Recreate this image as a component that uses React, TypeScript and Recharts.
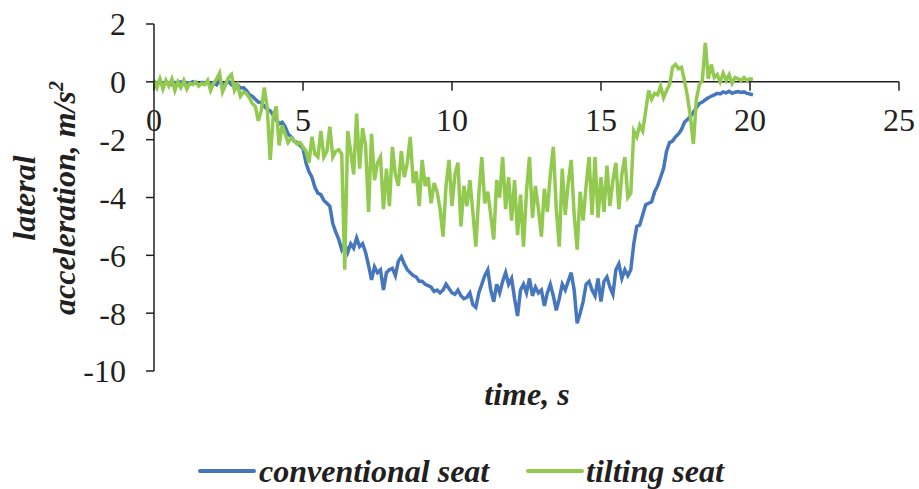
import React from 'react';
import { LineChart, Line, XAxis, YAxis, ReferenceLine } from 'recharts';

// sample times, s
const time = [
  0, 0.1, 0.2, 0.3, 0.4, 0.5, 0.6, 0.7, 0.8, 0.9,
  1, 1.1, 1.2, 1.3, 1.4, 1.5, 1.6, 1.7, 1.8, 1.9,
  2, 2.1, 2.2, 2.3, 2.4, 2.5, 2.6, 2.7, 2.8, 2.9,
  3, 3.1, 3.2, 3.3, 3.4, 3.5, 3.6, 3.7, 3.8, 3.9,
  4, 4.1, 4.2, 4.3, 4.4, 4.5, 4.6, 4.7, 4.8, 4.9,
  5, 5.1, 5.2, 5.3, 5.4, 5.5, 5.6, 5.7, 5.8, 5.9,
  6, 6.1, 6.2, 6.3, 6.4, 6.5, 6.6, 6.7, 6.8, 6.9,
  7, 7.1, 7.2, 7.3, 7.4, 7.5, 7.6, 7.7, 7.8, 7.9,
  8, 8.1, 8.2, 8.3, 8.4, 8.5, 8.6, 8.7, 8.8, 8.9,
  9, 9.1, 9.2, 9.3, 9.4, 9.5, 9.6, 9.7, 9.8, 9.9,
  10, 10.1, 10.2, 10.3, 10.4, 10.5, 10.6, 10.7, 10.8, 10.9,
  11, 11.1, 11.2, 11.3, 11.4, 11.5, 11.6, 11.7, 11.8, 11.9,
  12, 12.1, 12.2, 12.3, 12.4, 12.5, 12.6, 12.7, 12.8, 12.9,
  13, 13.1, 13.2, 13.3, 13.4, 13.5, 13.6, 13.7, 13.8, 13.9,
  14, 14.1, 14.2, 14.3, 14.4, 14.5, 14.6, 14.7, 14.8, 14.9,
  15, 15.1, 15.2, 15.3, 15.4, 15.5, 15.6, 15.7, 15.8, 15.9,
  16, 16.1, 16.2, 16.3, 16.4, 16.5, 16.6, 16.7, 16.8, 16.9,
  17, 17.1, 17.2, 17.3, 17.4, 17.5, 17.6, 17.7, 17.8, 17.9,
  18, 18.1, 18.2, 18.3, 18.4, 18.5, 18.6, 18.7, 18.8, 18.9,
  19, 19.1, 19.2, 19.3, 19.4, 19.5, 19.6, 19.7, 19.8, 19.9,
  20, 20.1,
];

// lateral acceleration, m/s2
const conventionalSeat = [
  0, -0.05, 0.02, -0.08, 0, -0.05, -0.1, -0.02, -0.06, 0,
  -0.08, -0.03, -0.06, 0, -0.05, -0.08, -0.02, -0.05, 0, -0.08,
  -0.03, -0.1, 0.05, -0.12, -0.05, 0.02, -0.1, -0.15, -0.1, -0.22,
  -0.2, -0.3, -0.45, -0.5, -0.6, -0.7, -0.72, -0.85, -0.95, -1.0,
  -1.15, -1.3, -1.45, -1.4, -1.55, -1.8, -1.9, -2.05, -2.1, -2.2,
  -2.3, -2.8, -3.1, -3.3, -3.65, -3.85, -3.9, -4.1, -4.2, -4.3,
  -4.9, -5.2, -5.45, -5.8, -5.6, -5.9, -5.6, -5.75, -5.4, -5.7,
  -5.6, -5.9, -6.35, -6.85, -6.4, -6.6, -6.5, -7.2, -6.6, -6.5,
  -6.45, -6.7, -6.2, -6.05, -6.3, -6.5, -6.6, -6.7, -6.75, -6.9,
  -6.9, -7.0, -7.05, -7.1, -7.25, -7.2, -7.3, -7.2, -7.0, -7.15,
  -7.3, -7.35, -7.2, -7.4, -7.5, -7.45, -7.3, -7.7, -7.8, -7.3,
  -7.0, -6.7, -6.5, -7.2, -7.6, -7.0, -7.3, -6.9, -6.6, -7.0,
  -6.8, -7.5, -8.1, -7.2, -7.0, -7.3, -6.8, -7.4, -7.1, -7.3,
  -7.2, -7.75, -7.3, -7.0, -7.4, -7.9, -7.5, -7.0, -7.2, -6.9,
  -6.6, -7.2, -8.35, -8.0, -7.6, -7.0, -6.9, -7.2, -7.4, -6.8,
  -7.6, -6.9, -6.75, -7.1, -7.35, -6.5, -6.3, -6.8, -6.5, -6.7,
  -6.5, -5.6, -5.0, -4.95, -4.6, -4.25, -4.2, -4.15, -3.8, -3.6,
  -3.3, -3.0, -2.4, -2.1, -2.05, -1.9, -1.8, -1.65, -1.4, -1.3,
  -1.2, -1.05, -0.9, -0.75, -0.7, -0.62, -0.55, -0.5, -0.45, -0.4,
  -0.42, -0.35, -0.38, -0.33, -0.4, -0.36, -0.34, -0.37, -0.35, -0.4,
  -0.42, -0.45,
];

const tiltingSeat = [
  0.05, -0.2, 0.1, -0.25, 0.05, -0.15, 0.1, -0.3, 0, -0.2,
  0.05, -0.25, -0.05, -0.1, 0, -0.15, -0.05, -0.1, 0.05, -0.3,
  -0.05, 0.1, 0.3, -0.35, -0.1, 0.15, 0.25, -0.3, -0.1, -0.5,
  -0.35, -0.4, -0.55, -0.75, -0.85, -1.35, -1.0, -0.2, -0.9, -2.7,
  -1.2, -0.85, -2.2, -1.5, -1.8, -2.1, -1.95, -2.05, -2.15, -2.1,
  -2.25, -2.4, -2.8, -1.9, -2.5, -2.6, -1.7, -2.6, -2.4, -1.55,
  -2.6, -2.4, -2.35, -2.5, -6.5, -1.7, -2.4, -3.2, -1.1, -3.0,
  -1.6, -2.2, -4.5, -1.8, -3.4, -2.8, -2.6, -4.4, -3.0, -4.3,
  -2.25, -3.2, -3.6, -2.4, -3.3, -2.8, -1.9, -3.5, -3.1, -4.3,
  -2.7, -3.6, -3.3, -4.2, -3.5, -3.8, -4.4, -5.35, -3.6, -2.7,
  -4.3, -3.2, -2.8, -5.0, -3.6, -4.3, -3.4, -4.5, -5.7, -3.9,
  -2.6, -4.2, -3.8, -4.6, -5.45, -3.4, -4.0, -2.6, -4.4, -3.3,
  -4.8, -3.4, -5.3, -3.9, -5.7, -3.8, -2.6, -4.7, -3.6, -4.4,
  -5.35, -3.7, -4.5, -3.2, -2.25, -4.4, -5.7, -3.0, -4.6, -3.5,
  -2.7, -4.6, -5.8, -3.8, -4.8, -3.6, -2.6, -4.6, -2.6, -4.7,
  -3.3, -4.5, -2.9, -4.3, -3.4, -2.8, -4.4, -3.2, -2.6, -4.0,
  -3.85, -1.7, -1.9, -1.5, -1.7, -1.0, -0.3, -0.6, -0.4, -0.45,
  -0.15, -0.55, -0.3, -0.1, 0.5, 0.6, 0.45, 0.5, 0.05, -0.5,
  -1.2, -2.15, -0.6, -0.1, 0.05, 1.35, 0.1, 0.6, 0.15, 0.25,
  0, 0.3, 0.05, 0.25, -0.05, 0.15, 0.1, 0.05, 0.15, 0.05,
  0.1, 0.08,
];

const xTicks = [0, 5, 10, 15, 20, 25];
const yTicks = [-10, -8, -6, -4, -2, 0, 2];

const data = time.map((t, i) => ({
  t,
  conventional: conventionalSeat[i],
  tilting: tiltingSeat[i],
}));

const FONT = 'Liberation Serif, DejaVu Serif, serif';
const INK = '#231F20';
const BLUE = '#4677BD';
const GREEN = '#92C94F';

const serif = { fontFamily: FONT };
const titleStyle = { fontFamily: FONT, fontSize: 32, fontWeight: 'bold' as const, fontStyle: 'italic' as const };

const YTitle = () => (
  <g fill={INK} style={titleStyle}>
    <text x={35} y={198} transform="rotate(-90 35 198)" textAnchor="middle" style={titleStyle}>lateral</text>
    <text x={75} y={198} transform="rotate(-90 75 198)" textAnchor="middle" style={titleStyle}>
      acceleration, m/s<tspan dy={-12} style={{ fontSize: 20 }}>2</tspan>
    </text>
  </g>
);

const XTitle = () => (
  <text x={527} y={405} textAnchor="middle" fill={INK} style={titleStyle}>
    time, s
  </text>
);

const App = () => {
  return (
    <div style={{ position: 'absolute', left: 0, top: 0, width: 919, height: 489, background: '#fff' }}>
      <LineChart width={919} height={489} data={data} style={serif}
        margin={{ top: 24, right: 20, bottom: 58, left: 14 }}>
        <XAxis type="number" dataKey="t" domain={[0, 25]} ticks={xTicks}
          axisLine={false} tickLine={false} tick={false} height={60} label={<XTitle />} />
        <YAxis type="number" domain={[-10, 2]} ticks={yTicks} width={140}
          axisLine={{ stroke: INK, strokeWidth: 1.5 }}
          tickLine={{ stroke: INK, strokeWidth: 1.5 }} tickSize={8} tickMargin={20}
          tick={{ fontSize: 32, fill: INK, style: serif }} label={<YTitle />} />
        <ReferenceLine y={0} stroke={INK} strokeWidth={1.5} />
        {xTicks.map((t) => (
          <ReferenceLine key={t} segment={[{ x: t, y: 0 }, { x: t, y: -0.31 }]}
            stroke={INK} strokeWidth={1.5}
            label={{ value: String(t), position: 'bottom', offset: 17, fontSize: 32, fill: INK, style: serif }} />
        ))}
        <Line type="linear" dataKey="conventional" stroke={BLUE} strokeWidth={3.5}
          dot={false} isAnimationActive={false} />
        <Line type="linear" dataKey="tilting" stroke={GREEN} strokeWidth={3.5}
          dot={false} isAnimationActive={false} />
      </LineChart>
      <svg width={919} height={489} style={{ position: 'absolute', left: 0, top: 0, pointerEvents: 'none' }}>
        <g fill={INK} style={titleStyle}>
          <line x1={200} y1={471} x2={254} y2={471} stroke={BLUE} strokeWidth={4} strokeLinecap="round" />
          <text x={259} y={482}>conventional seat</text>
          <line x1={528} y1={471} x2={582} y2={471} stroke={GREEN} strokeWidth={4} strokeLinecap="round" />
          <text x={586} y={482}>tilting seat</text>
        </g>
      </svg>
    </div>
  );
};

export default App;
